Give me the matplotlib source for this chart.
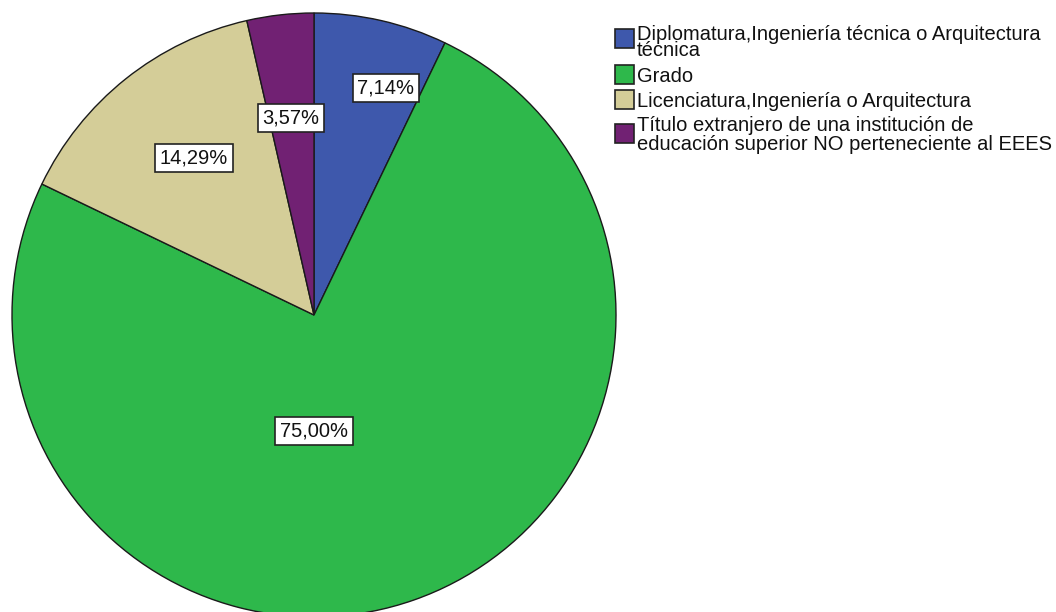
import matplotlib.pyplot as plt
from matplotlib.patches import Rectangle

# -----------------------------
# Data
# -----------------------------
categories = [
    "Diplomatura,Ingeniería técnica o Arquitectura\ntécnica",
    "Grado",
    "Licenciatura,Ingeniería o Arquitectura",
    "Título extranjero de una institución de\neducación superior NO perteneciente al EEES",
]
percentages = [7.14, 75.00, 14.29, 3.57]
colors = ["#3e58ac", "#2eb84b", "#d4cd98", "#712173"]

# -----------------------------
# Layout (pixel coords, y from top)
# -----------------------------
W, H = 1056, 612
center = (314, 315)
radius = 302
label_pos = [(386, 88), (314, 431), (194, 158), (291, 118)]
legend_x = 615
sq = 19
square_rows = [38, 74, 99, 133]
# baselines of each text line of each legend entry
text_baselines = [[40, 56], [82], [107], [131, 150]]
font = "Liberation Sans"

fig = plt.figure(figsize=(W / 100, H / 100), dpi=100)
ax = fig.add_axes([0, 0, 1, 1])


def fy(y):
    return H - y


ax.pie(percentages, colors=colors, startangle=90, counterclock=False,
       center=(center[0], fy(center[1])), radius=radius,
       wedgeprops=dict(edgecolor="#1a1a1a", linewidth=1.0))
# pie() resets the limits, so pin the axes to pixel units afterwards
ax.set_xlim(0, W)
ax.set_ylim(0, H)
ax.set_aspect("equal")
ax.axis("off")

for (x, y), p in zip(label_pos, percentages):
    txt = f"{p:.2f}%".replace(".", ",")
    ax.text(x, fy(y), txt, ha="center", va="center", fontsize=14.5,
            family=font, color="#111111",
            bbox=dict(boxstyle="square,pad=0.24", facecolor="white",
                      edgecolor="#222222", linewidth=1.2))

# legend drawn by hand to keep the tight SPSS look
for cy, lab, c, bases in zip(square_rows, categories, colors, text_baselines):
    ax.add_patch(Rectangle((legend_x, fy(cy) - sq / 2), sq, sq,
                           facecolor=c, edgecolor="#222222", linewidth=1.2))
    for line, by in zip(lab.split("\n"), bases):
        ax.text(legend_x + sq + 3, fy(by), line, ha="left", va="baseline",
                fontsize=14.5, family=font, color="#111111")

fig.savefig("out.png", dpi=100)
